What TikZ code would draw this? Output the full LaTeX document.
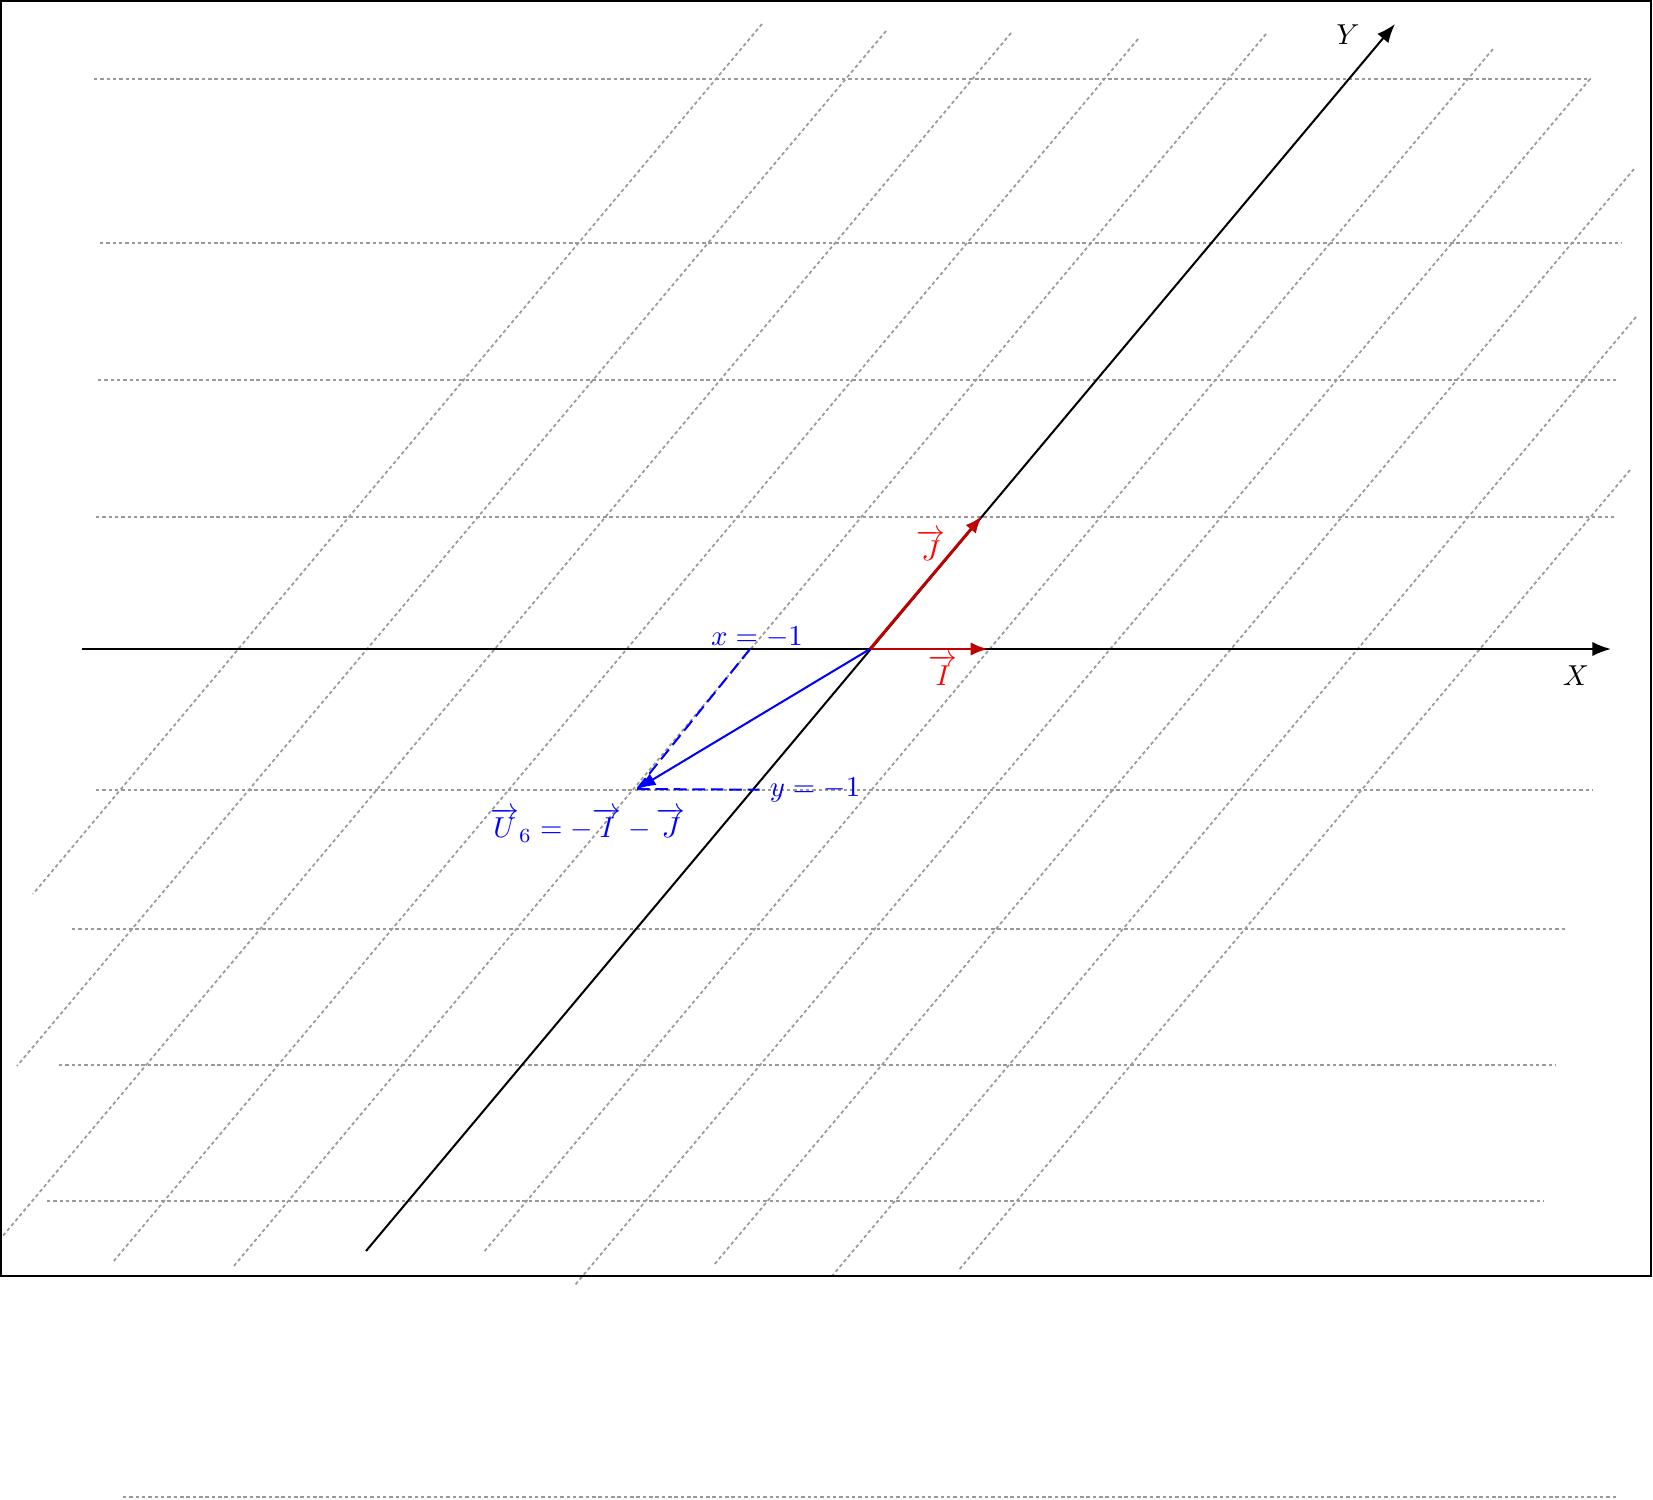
\documentclass[tikz,border=0pt]{standalone}
\usepackage{amsmath}
\usepackage{tikz}
\usetikzlibrary{arrows.meta}

\begin{document}
\begin{tikzpicture}[x=0.122mm, y=-0.122mm,
                      gridline/.style = {black!40, line width=0.6pt,
                        dash pattern=on 1.2pt off 1pt},
                      axis/.style = {line width=0.7pt,
                        -{Latex[length=6.5pt, width=5pt]}},
                      basevec/.style = {red!75!black, line width=1pt,
                        -{Latex[length=6pt, width=4.6pt]}},
                      vecU/.style = {blue, line width=0.7pt,
                        -{Latex[length=6.5pt, width=4.6pt]}},
                      helper/.style = {blue, line width=0.7pt,
                        dash pattern=on 4.4pt off 2pt}]
  \useasboundingbox (0,0) rectangle (1653,1499);

  % oblique grid
  \foreach \yy/\xa/\xb in {79/94/1590, 243/100/1622, 380/98/1618,
                           517/96/1617, 790/96/1592, 929/72/1567,
                           1065/59/1555, 1201/47/1543, 1497/123/1618}
    \draw[gridline] (\xa,\yy) -- (\xb,\yy);
  \foreach \xa/\ya/\xb/\yb in {762/24/33/894, 886/31/17/1066,
                               1011/33/2/1237, 1138/39/113/1262,
                               1266/34/233/1267, 1493/49/483/1253,
                               1590/79/575/1285, 1634/169/713/1266,
                               1636/317/832/1276, 1630/470/958/1271}
    \draw[gridline] (\xa,\ya) -- (\xb,\yb);

  % frame
  \draw[line width=1pt] (1,1) rectangle (1651,1276);

  % points
  \coordinate (O) at (870,649);
  \coordinate (Xs) at (82,649);
  \coordinate (Xe) at (1611,649);
  \coordinate (Ys) at (366,1251);
  \coordinate (Ye) at (1395,24);
  \coordinate (I) at (988,649);
  \coordinate (J) at (982,516);
  \coordinate (U) at (637,789);
  \coordinate (Xm) at (750,649);

  % axes
  \draw[axis] (Xs) -- (Xe);
  \draw[axis] (Ys) -- (Ye);
  \node (lblX) at (1576,676) {$X$};
  \node (lblY) at (1348,35) {$Y$};

  % base vectors
  \draw[basevec] (O) -- (I);
  \draw[basevec] (O) -- (J);
  \node[text=red] (lblI) at (943,670) {$\overrightarrow{I}$};
  \node[text=red] (lblJ) at (931,545) {$\overrightarrow{J}$};

  % U6
  \node[text=blue] (lblxm) at (757,637) {$x=-1$};
  \node[text=blue] (lblym) at (815,790) {$y=-1$};
  \draw[helper] (Xm) -- (U);
  \draw[helper] (U) -- (lblym);
  \draw[vecU] (O) -- (U);
  \node[text=blue] (lblU) at (588,825)
    {$\overrightarrow{U}_6=-\overrightarrow{I}-\overrightarrow{J}$};
\end{tikzpicture}
\end{document}
